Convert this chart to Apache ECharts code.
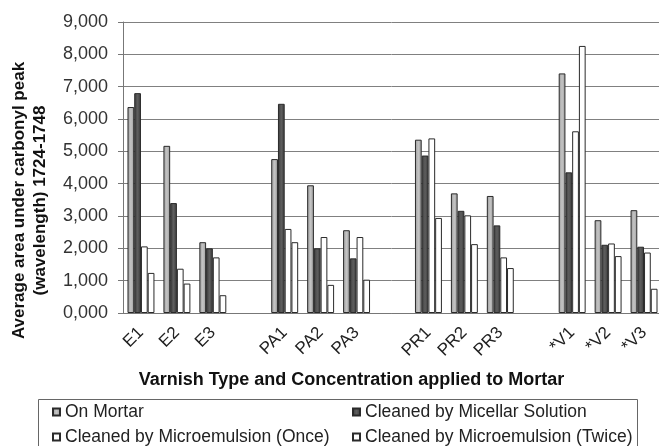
<!DOCTYPE html>
<html>
<head>
<meta charset="utf-8">
<script src="https://cdn.jsdelivr.net/npm/echarts@6/dist/echarts.min.js"></script>
<style>
	html, body { margin: 0; padding: 0; background: #fff; }
	#chart { width: 659px; height: 446px; }
</style>
</head>
<body>
<div id="chart"></div>
<script>
	// blank categories are the gaps between varnish groups
	var categories = ['E1', 'E2', 'E3', '', 'PA1', 'PA2', 'PA3', '', 'PR1', 'PR2', 'PR3', '', '*V1', '*V2', '*V3']
	var onMortar   = [6370, 5170, 2190, null, 4760, 3950, 2560, null, 5360, 3700, 3620, null, 7410, 2870, 3180]
	var micellar   = [6800, 3400, 2000, null, 6470, 2000, 1690, null, 4870, 3160, 2710, null, 4350, 2110, 2050]
	var emulOnce   = [2060, 1370, 1720, null, 2600, 2350, 2350, null, 5400, 3020, 1720, null, 5620, 2150, 1870]
	var emulTwice  = [1240,  910,  550, null, 2190,  870, 1030, null, 2940, 2130, 1390, null, 8260, 1760,  750]
	var yTicks = [0, 1000, 2000, 3000, 4000, 5000, 6000, 7000, 8000, 9000]

	var font = '"Liberation Sans", Arial, sans-serif'
	var chart = echarts.init(document.getElementById('chart'))

	function grad(edge, mid) {
		return new echarts.graphic.LinearGradient(0, 0, 1, 0, [
			{offset: 0, color: edge}, {offset: 0.5, color: mid}, {offset: 1, color: edge}
		])
	}
	function bar(name, data, color) {
		return {
			name: name,
			type: 'bar',
			data: data,
			barGap: '0%',
			barCategoryGap: '25%',
			itemStyle: {color: color, borderColor: '#2a2a2a', borderWidth: 1}
		}
	}
	function legendAt(left, names) {
		return {
			left: left, top: 403, height: 60, orient: 'vertical', itemGap: 7,
			itemWidth: 7, itemHeight: 7, padding: 0, icon: 'rect',
			textStyle: {fontSize: 17.5, color: '#222', fontFamily: font},
			data: names
		}
	}

	chart.setOption({
		animation: false,
		textStyle: {fontFamily: font},
		grid: {left: 123, top: 22, width: 539, height: 291, outerBoundsMode: 'none'},
		legend: [
			legendAt(52, ['On Mortar', 'Cleaned by Microemulsion (Once)']),
			legendAt(352, ['Cleaned by Micellar Solution', 'Cleaned by Microemulsion (Twice)'])
		],
		graphic: [{
			type: 'rect',
			shape: {x: 38.5, y: 399.5, width: 599, height: 60},
			style: {fill: 'none', stroke: '#666', lineWidth: 1}
		}],
		xAxis: {
			type: 'category',
			data: categories,
			name: 'Varnish Type and Concentration applied to Mortar',
			nameLocation: 'middle',
			nameGap: 58,
			nameTextStyle: {fontSize: 18, fontWeight: 'bold', color: '#111', fontFamily: font, padding: [0, 82, 0, 0]},
			axisLine: {lineStyle: {color: '#777'}},
			axisTick: {length: 5, lineStyle: {color: '#777'}},
			axisLabel: {rotate: 45, fontSize: 17, color: '#222', margin: 17, interval: 0}
		},
		yAxis: {
			type: 'value',
			min: yTicks[0],
			max: yTicks[yTicks.length - 1],
			interval: 1000,
			name: 'Average area under carbonyl peak\n(wavelength) 1724-1748',
			nameLocation: 'middle',
			nameRotate: 90,
			nameGap: 72,
			nameTextStyle: {fontSize: 17, fontWeight: 'bold', color: '#111', lineHeight: 21, fontFamily: font, padding: [0, 66, 0, 0]},
			axisLine: {show: true, lineStyle: {color: '#777'}},
			axisTick: {show: true, length: 5, lineStyle: {color: '#777'}},
			axisLabel: {
				fontSize: 18, color: '#333', margin: 15,
				formatter: function (v) { return Math.floor(v / 1000) + ',000' }
			},
			splitLine: {lineStyle: {color: '#808080'}}
		},
		series: [
			bar('On Mortar', onMortar, grad('#9a9a9a', '#c4c4c4')),
			bar('Cleaned by Micellar Solution', micellar, grad('#3a3a3a', '#5e5e5e')),
			bar('Cleaned by Microemulsion (Once)', emulOnce, '#ffffff'),
			bar('Cleaned by Microemulsion (Twice)', emulTwice, '#ffffff')
		]
	})
</script>
</body>
</html>
